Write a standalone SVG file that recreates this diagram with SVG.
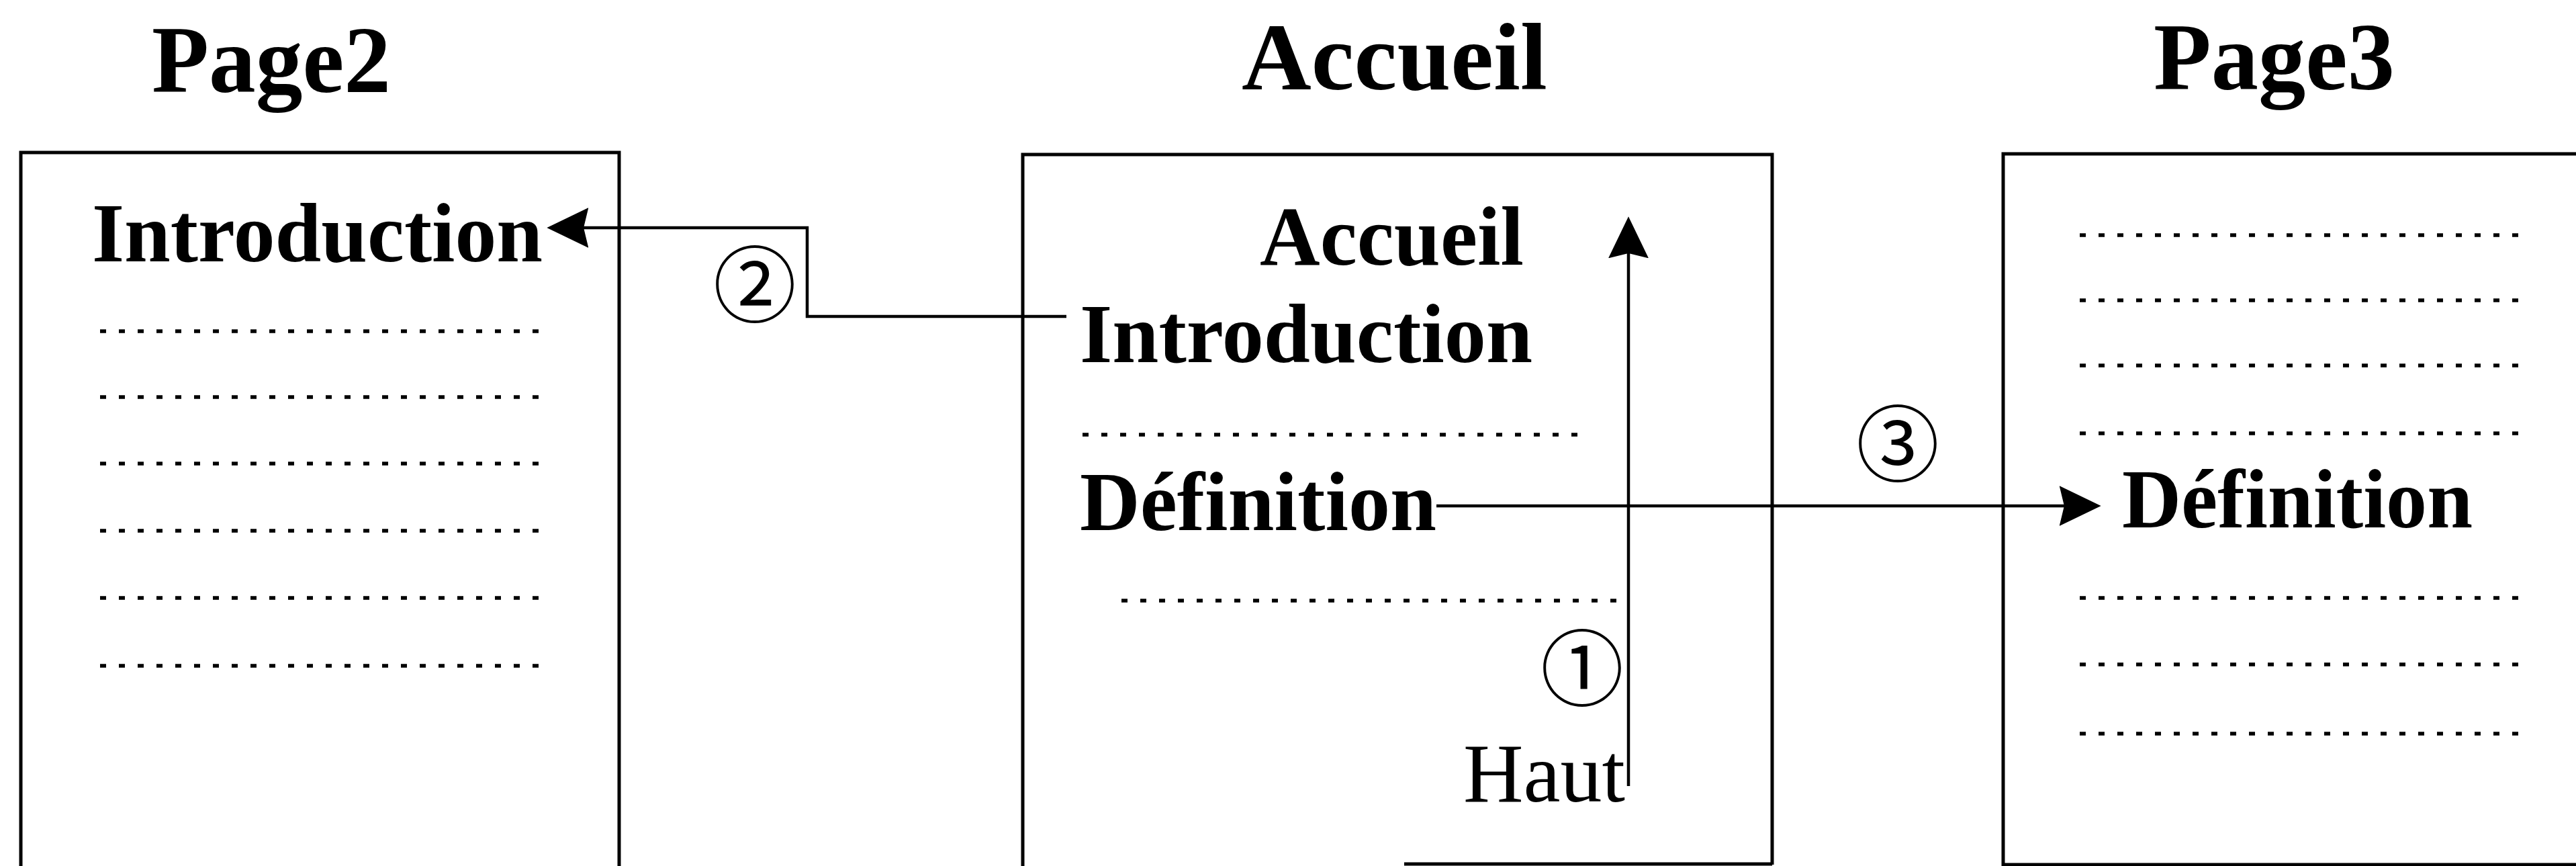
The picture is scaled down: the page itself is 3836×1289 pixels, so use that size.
<svg xmlns="http://www.w3.org/2000/svg" width="3836" height="1289" viewBox="0 0 3836 1289">
<style>
.title{font-family:"Liberation Serif","Times New Roman",serif;font-weight:bold;font-size:142px;fill:#000}
.lbl{font-family:"Liberation Serif","Times New Roman",serif;font-weight:bold;font-size:124px;fill:#000}
.reg{font-family:"Liberation Serif","Times New Roman",serif;font-size:124px;fill:#000}
.num{font-family:"Noto Sans CJK JP","Noto Sans CJK SC",sans-serif;font-size:124px;fill:#000}
.box{fill:none;stroke:#000;stroke-width:5}
.dots{stroke:#000;stroke-width:5.5;stroke-dasharray:9 19}
.conn{fill:none;stroke:#000;stroke-width:4.5}
</style>
<defs>
<marker id="ah" markerUnits="userSpaceOnUse" markerWidth="62" markerHeight="62" viewBox="0 0 60 58" refX="40" refY="29" orient="auto">
<path d="M0,0 L60,29 L0,58 L7,29 z" fill="#000"/>
</marker>
</defs>
<rect width="3836" height="1289" fill="#fff"/>

<g id="page2">
<text class="title" x="226" y="137" textLength="356" lengthAdjust="spacingAndGlyphs">Page2</text>
<path class="box" d="M31,1300 V227 H922 V1300"/>
<text class="lbl" x="137" y="389" textLength="671" lengthAdjust="spacingAndGlyphs">Introduction</text>
<g class="dots">
<line x1="149" y1="493" x2="802" y2="493"/>
<line x1="149" y1="591" x2="802" y2="591"/>
<line x1="149" y1="690" x2="802" y2="690"/>
<line x1="149" y1="790" x2="802" y2="790"/>
<line x1="149" y1="890" x2="802" y2="890"/>
<line x1="149" y1="991" x2="802" y2="991"/>
</g>
</g>

<g id="accueil">
<text class="title" x="1849" y="133" textLength="455" lengthAdjust="spacingAndGlyphs">Accueil</text>
<path class="box" d="M1523,1300 V230 H2639 V1287"/>
<line class="box" x1="2091" y1="1286" x2="2639" y2="1286"/>
<text class="lbl" x="1876" y="394" textLength="393" lengthAdjust="spacingAndGlyphs">Accueil</text>
<text class="lbl" x="1608" y="539" textLength="674" lengthAdjust="spacingAndGlyphs">Introduction</text>
<text class="lbl" x="1608" y="789" textLength="531" lengthAdjust="spacingAndGlyphs">Définition</text>
<text class="reg" x="2179" y="1193" textLength="241" lengthAdjust="spacingAndGlyphs">Haut</text>
<g class="dots">
<line x1="1612" y1="647" x2="2351" y2="647"/>
<line x1="1670" y1="894" x2="2413" y2="894"/>
</g>
</g>

<g id="page3">
<text class="title" x="3207" y="133" textLength="359" lengthAdjust="spacingAndGlyphs">Page3</text>
<path class="box" d="M3850,229 H2983 V1287 H3850"/>
<text class="lbl" x="3160" y="785" textLength="522" lengthAdjust="spacingAndGlyphs">Définition</text>
<g class="dots">
<line x1="3097" y1="350" x2="3750" y2="350"/>
<line x1="3097" y1="447" x2="3750" y2="447"/>
<line x1="3097" y1="544" x2="3750" y2="544"/>
<line x1="3097" y1="645" x2="3750" y2="645"/>
<line x1="3097" y1="890" x2="3750" y2="890"/>
<line x1="3097" y1="989" x2="3750" y2="989"/>
<line x1="3097" y1="1092" x2="3750" y2="1092"/>
</g>
</g>

<g id="connectors">
<path class="conn" d="M1588,471 H1202 V339 H835" marker-end="url(#ah)"/>
<path class="conn" d="M2425,1170 V343" marker-end="url(#ah)"/>
<path class="conn" d="M2139,753 H3108" marker-end="url(#ah)"/>
<text class="num" x="1124" y="416" text-anchor="middle" dominant-baseline="central">②</text>
<text class="num" x="2356" y="987" text-anchor="middle" dominant-baseline="central">①</text>
<text class="num" x="2826" y="653" text-anchor="middle" dominant-baseline="central">③</text>
</g>
</svg>
